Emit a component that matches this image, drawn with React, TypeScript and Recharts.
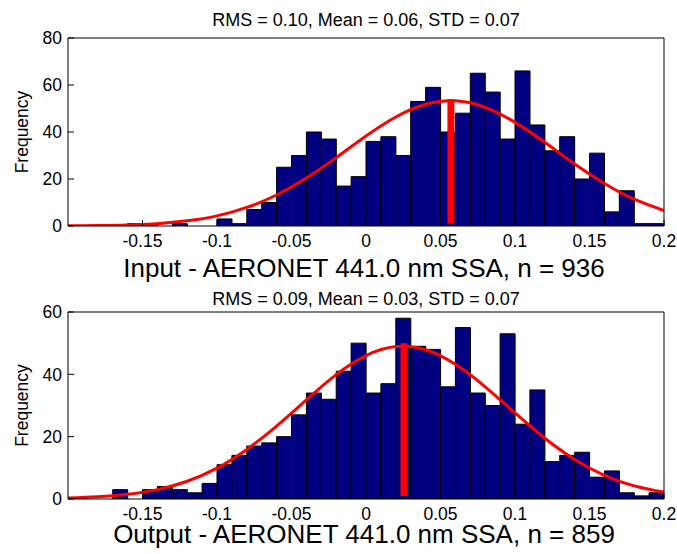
import { ComposedChart, Bar, Line, XAxis, YAxis } from "recharts";

// bin centres, 0.01 wide, from -0.2 to 0.2
const binCenters = [
  -0.195, -0.185, -0.175, -0.165, -0.155, -0.145, -0.135, -0.125, -0.115, -0.105,
  -0.095, -0.085, -0.075, -0.065, -0.055, -0.045, -0.035, -0.025, -0.015, -0.005,
  0.005, 0.015, 0.025, 0.035, 0.045, 0.055, 0.065, 0.075, 0.085, 0.095,
  0.105, 0.115, 0.125, 0.135, 0.145, 0.155, 0.165, 0.175, 0.185, 0.195,
];

const inputCounts = [
  0, 0, 0, 0, 1, 1, 0, 1, 0, 0,
  3, 1, 7, 10, 25, 30, 40, 37, 17, 21,
  36, 38, 30, 53, 59, 40, 48, 65, 57, 37,
  66, 43, 32, 38, 20, 31, 6, 15, 1, 1,
];

const outputCounts = [
  0, 0, 0, 3, 0, 3, 4, 3, 2, 5,
  11, 14, 17, 18, 20, 27, 34, 32, 41, 50,
  34, 37, 58, 49, 48, 36, 55, 34, 30, 53,
  24, 35, 12, 14, 15, 7, 9, 2, 1, 2,
];

// red fit curve
const fitX = [
  -0.2, -0.18, -0.16, -0.14, -0.12, -0.1, -0.08, -0.06, -0.04, -0.02, 0,
  0.02, 0.04, 0.06, 0.08, 0.1, 0.12, 0.14, 0.16, 0.18, 0.2,
];
const inputFit = [
  0.1, 0.2, 0.4, 1, 2.2, 4.3, 7.9, 13.2, 20.4, 29.1, 38.3,
  46.4, 51.8, 53.3, 50.5, 44.1, 35.6, 26.4, 18.1, 11.4, 6.6,
];
const outputFit = [
  0.3, 0.7, 1.5, 3, 5.7, 9.9, 15.9, 23.4, 31.8, 39.9, 46,
  48.9, 47.9, 43.2, 36, 27.6, 19.5, 12.7, 7.6, 4.2, 2.2,
];

// mean markers: x, bottom, top
const inputMean = [0.057, 1, 54];
const outputMean = [0.0255, 1, 50];

const xTicks = [-0.15, -0.1, -0.05, 0, 0.05, 0.1, 0.15, 0.2];
const inputYTicks = [0, 20, 40, 60, 80];
const outputYTicks = [0, 20, 40, 60];

const W = 677;
const PLOT_LEFT = 68;
const PLOT_RIGHT = 664;
const FONT = "'Liberation Sans', Arial, Helvetica, sans-serif";

type PanelProps = {
  counts: number[];
  fit: number[];
  mean: number[];
  yTicks: number[];
  title: string;
  xLabel: string;
  height: number;
  plotTop: number;
  plotBottom: number;
  titleGap: number;
  xLabelGap: number;
};

const Panel = (p: PanelProps) => {
  const bars = binCenters.map((x, i) => ({ x, count: p.counts[i] }));
  const curve = fitX.map((x, i) => ({ x, y: p.fit[i] }));
  const meanLine = [
    { x: p.mean[0], y: p.mean[1] },
    { x: p.mean[0], y: p.mean[2] },
  ];
  const yMax = p.yTicks[p.yTicks.length - 1];
  const cx = (PLOT_LEFT + PLOT_RIGHT) / 2;
  const cy = (p.plotTop + p.plotBottom) / 2;

  const title = () => (
    <text x={cx} y={p.plotTop - p.titleGap} textAnchor="middle" fontSize={18} fill="#000" fontFamily={FONT}>
      {p.title}
    </text>
  );
  const xLabel = () => (
    <text x={cx - 2} y={p.plotBottom + p.xLabelGap} textAnchor="middle" fontSize={26} fill="#000" fontFamily={FONT}>
      {p.xLabel}
    </text>
  );
  const yLabel = () => (
    <text x={27.5} y={cy} transform={`rotate(-90 27.5 ${cy})`} textAnchor="middle" fontSize={17.5} fill="#000" fontFamily={FONT}>
      Frequency
    </text>
  );

  return (
    <ComposedChart
      width={W}
      height={p.height}
      data={bars}
      margin={{ top: p.plotTop - 1, right: W - PLOT_RIGHT - 1, bottom: 0, left: 0 }}
      barCategoryGap={0}
      barGap={0}
    >
      <XAxis
        xAxisId="b"
        dataKey="x"
        type="number"
        domain={[-0.2, 0.2]}
        allowDataOverflow
        ticks={xTicks}
        height={p.height - p.plotBottom}
        tickSize={-6}
        tickMargin={15}
        stroke="#000"
        tick={{ fill: "#000", fontSize: 17.5 }}
        tickFormatter={(v) => String(v)}
        label={xLabel}
      />
      <XAxis
        xAxisId="t"
        orientation="top"
        dataKey="x"
        type="number"
        domain={[-0.2, 0.2]}
        allowDataOverflow
        ticks={xTicks}
        height={1}
        tickSize={-6}
        tick={false}
        stroke="#000"
        label={title}
      />
      <YAxis
        yAxisId="l"
        width={PLOT_LEFT}
        type="number"
        domain={[0, yMax]}
        allowDataOverflow
        ticks={p.yTicks}
        tickSize={-6}
        tickMargin={12}
        stroke="#000"
        tick={{ fill: "#000", fontSize: 17.5 }}
        label={yLabel}
      />
      <YAxis
        yAxisId="r"
        orientation="right"
        width={1}
        type="number"
        domain={[0, yMax]}
        allowDataOverflow
        ticks={p.yTicks}
        tickSize={-6}
        tick={false}
        stroke="#000"
      />
      <Bar
        xAxisId="b"
        yAxisId="l"
        dataKey="count"
        fill="#000080"
        stroke="#000"
        strokeWidth={1}
        isAnimationActive={false}
      />
      <Line
        xAxisId="t"
        yAxisId="r"
        data={curve}
        dataKey="y"
        type="natural"
        stroke="#ff0000"
        strokeWidth={3}
        dot={false}
        activeDot={false}
        isAnimationActive={false}
      />
      <Line
        xAxisId="t"
        yAxisId="r"
        data={meanLine}
        dataKey="y"
        type="linear"
        stroke="#ff0000"
        strokeWidth={7}
        dot={false}
        activeDot={false}
        isAnimationActive={false}
      />
    </ComposedChart>
  );
};

const App = () => {
  return (
    <div style={{ position: "absolute", left: 0, top: 0, width: W, height: 554, background: "#fff", fontFamily: FONT }}>
      <Panel
        counts={inputCounts}
        fit={inputFit}
        mean={inputMean}
        yTicks={inputYTicks}
        title="RMS = 0.10, Mean = 0.06, STD = 0.07"
        xLabel="Input - AERONET 441.0 nm SSA, n = 936"
        height={284}
        plotTop={38}
        plotBottom={226}
        titleGap={12}
        xLabelGap={51}
      />
      <Panel
        counts={outputCounts}
        fit={outputFit}
        mean={outputMean}
        yTicks={outputYTicks}
        title="RMS = 0.09, Mean = 0.03, STD = 0.07"
        xLabel="Output - AERONET 441.0 nm SSA, n = 859"
        height={270}
        plotTop={28}
        plotBottom={215}
        titleGap={7}
        xLabelGap={44}
      />
    </div>
  );
};

export default App;
